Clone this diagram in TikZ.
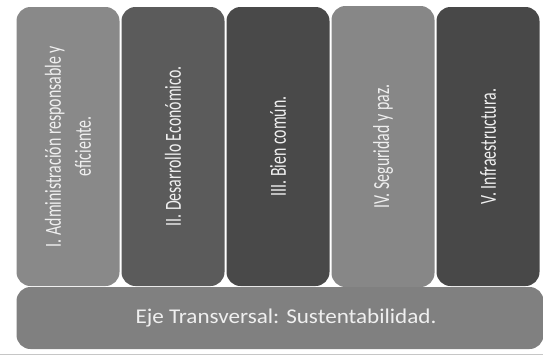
\documentclass[tikz,border=0pt]{standalone}
\usepackage{fontspec}
\setmainfont{Carlito}
\usetikzlibrary{positioning}
\definecolor{colI}{HTML}{898989}
\definecolor{colII}{HTML}{5B5B5B}
\definecolor{colIII}{HTML}{494949}
\definecolor{colIV}{HTML}{878787}
\definecolor{colV}{HTML}{484848}
\definecolor{colEje}{HTML}{808080}
\definecolor{txt}{HTML}{EFEFEF}

\begin{document}
\begin{tikzpicture}[
    x=1pt, y=-1pt,
    pillar/.style={%
      rectangle,
      rounded corners=14pt,
      minimum width=103pt,
      minimum height=279pt,
      inner sep=0pt,
      outer sep=0pt,
    },
    label/.style={%
      text=txt,
      rotate=90,
      xscale=0.69,
      align=center,
      font=\fontsize{23}{30}\selectfont,
    },
  ]
    \useasboundingbox (0,0) rectangle (543,356);

    % columns
    \node [pillar, fill=colI] (p1) at (68,146.5) {};
    \node [pillar, fill=colII, right=2pt of p1] (p2) {};
    \node [pillar, fill=colIII, right=2pt of p2] (p3) {};
    \node [pillar, fill=colIV, right=2pt of p3, minimum height=281pt] (p4) {};
    \node [pillar, fill=colV, right=2pt of p4] (p5) {};

    \node [label] (t1) at (p1) {I. Administración responsable y\\eficiente.};
    \node [label] (t2) at (p2) {II. Desarrollo Económico.};
    \node [label] (t3) at (p3) {III. Bien común.};
    \node [label] (t4) at (p4) {IV. Seguridad y paz.};
    \node [label] (t5) at (p5) {V. Infraestructura.};

    % base
    \node [pillar, fill=colEje, minimum width=527pt, minimum height=62pt,
      below right=1pt and 0pt of p1.south west, anchor=north west] (eje) {};
    \node [text=txt, xscale=1.1, font=\fontsize{21}{24}\selectfont] (te) at ([xshift=6pt]eje) {Eje Transversal: Sustentabilidad.};

    \draw [gray!45, line width=1pt] (0,354) -- (543,354);
\end{tikzpicture}
\end{document}
